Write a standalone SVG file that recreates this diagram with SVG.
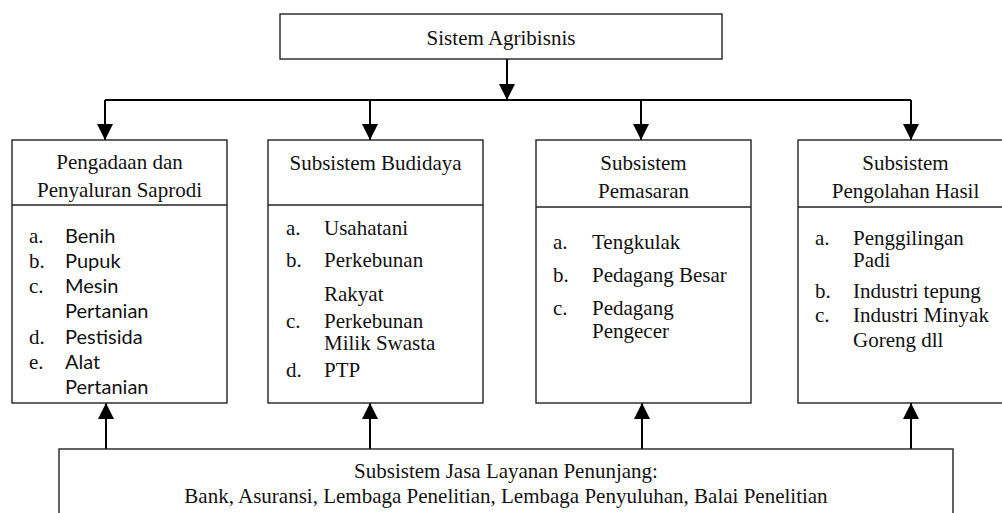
<svg xmlns="http://www.w3.org/2000/svg" width="1002" height="513" viewBox="0 0 1002 513">
<style>
.box{fill:#fff;stroke:#222;stroke-width:1.4}
.div{stroke:#222;stroke-width:1.4}
.ln{fill:none;stroke:#000;stroke-width:2}
.t{font-family:"Liberation Serif","Times New Roman",serif;font-size:21px;fill:#111}
.c{text-anchor:middle}
.s{font-family:Lato,"Open Sans",sans-serif;font-size:20px;fill:#111}
</style>
<defs>
<marker id="ah" markerUnits="userSpaceOnUse" markerWidth="18" markerHeight="16" refX="16" refY="8" orient="auto">
<polygon points="0,0 16,8 0,16" fill="#000"/>
</marker>
</defs>
<rect width="1002" height="513" fill="#fff"/>
<g id="connectors">
<line class="ln" x1="507" y1="59" x2="507" y2="100" marker-end="url(#ah)"/>
<line class="ln" x1="105" y1="100" x2="911" y2="100"/>
<line class="ln" x1="105" y1="100" x2="105" y2="140" marker-end="url(#ah)"/>
<line class="ln" x1="370" y1="100" x2="370" y2="140" marker-end="url(#ah)"/>
<line class="ln" x1="641" y1="100" x2="641" y2="140" marker-end="url(#ah)"/>
<line class="ln" x1="911" y1="100" x2="911" y2="140" marker-end="url(#ah)"/>
<line class="ln" x1="106" y1="449" x2="106" y2="403" marker-end="url(#ah)"/>
<line class="ln" x1="370" y1="449" x2="370" y2="403" marker-end="url(#ah)"/>
<line class="ln" x1="642" y1="449" x2="642" y2="403" marker-end="url(#ah)"/>
<line class="ln" x1="911" y1="449" x2="911" y2="403" marker-end="url(#ah)"/>
</g>
<g id="sistem">
<rect class="box" x="280" y="14" width="442" height="45"/>
<text class="t c" x="501" y="45">Sistem Agribisnis</text>
</g>
<g id="saprodi">
<rect class="box" x="12" y="140" width="215" height="263"/>
<line class="div" x1="12" y1="205" x2="227" y2="205"/>
<text class="t c" x="119.5" y="169">Pengadaan dan</text>
<text class="t c" x="119.5" y="197">Penyaluran Saprodi</text>
<text class="t" x="29" y="243">a.</text><text class="s" x="65" y="243">Benih</text>
<text class="t" x="29" y="268">b.</text><text class="s" x="65" y="268">Pupuk</text>
<text class="t" x="29" y="293">c.</text><text class="s" x="65" y="293">Mesin</text>
<text class="s" x="65" y="318">Pertanian</text>
<text class="t" x="29" y="344">d.</text><text class="s" x="65" y="344">Pestisida</text>
<text class="t" x="29" y="369">e.</text><text class="s" x="65" y="369">Alat</text>
<text class="s" x="65" y="394">Pertanian</text>
</g>
<g id="budidaya">
<rect class="box" x="268" y="140" width="215" height="263"/>
<line class="div" x1="268" y1="205" x2="483" y2="205"/>
<text class="t c" x="375.5" y="170">Subsistem Budidaya</text>
<text class="t" x="286" y="235">a.</text><text class="t" x="324" y="235">Usahatani</text>
<text class="t" x="286" y="267">b.</text><text class="t" x="324" y="267">Perkebunan</text>
<text class="t" x="324" y="301">Rakyat</text>
<text class="t" x="286" y="328">c.</text><text class="t" x="324" y="328">Perkebunan</text>
<text class="t" x="324" y="350">Milik Swasta</text>
<text class="t" x="286" y="377">d.</text><text class="t" x="324" y="377">PTP</text>
</g>
<g id="pemasaran">
<rect class="box" x="536" y="140" width="215" height="263"/>
<line class="div" x1="536" y1="207" x2="751" y2="207"/>
<text class="t c" x="643.5" y="170">Subsistem</text>
<text class="t c" x="643.5" y="198">Pemasaran</text>
<text class="t" x="553" y="249">a.</text><text class="t" x="592" y="249">Tengkulak</text>
<text class="t" x="553" y="282">b.</text><text class="t" x="592" y="282">Pedagang Besar</text>
<text class="t" x="553" y="315">c.</text><text class="t" x="592" y="315">Pedagang</text>
<text class="t" x="592" y="338">Pengecer</text>
</g>
<g id="pengolahan">
<rect class="box" x="798" y="140" width="215" height="263"/>
<line class="div" x1="798" y1="207" x2="1013" y2="207"/>
<text class="t c" x="905.5" y="170">Subsistem</text>
<text class="t c" x="905.5" y="198">Pengolahan Hasil</text>
<text class="t" x="815" y="245">a.</text><text class="t" x="853" y="245">Penggilingan</text>
<text class="t" x="853" y="267">Padi</text>
<text class="t" x="815" y="298">b.</text><text class="t" x="853" y="298">Industri tepung</text>
<text class="t" x="815" y="322">c.</text><text class="t" x="853" y="322">Industri Minyak</text>
<text class="t" x="853" y="347">Goreng dll</text>
</g>
<g id="jasa">
<rect class="box" x="59" y="449" width="894" height="80"/>
<text class="t c" x="506" y="478">Subsistem Jasa Layanan Penunjang:</text>
<text class="t c" x="506" y="503">Bank, Asuransi, Lembaga Penelitian, Lembaga Penyuluhan, Balai Penelitian</text>
</g>
</svg>
